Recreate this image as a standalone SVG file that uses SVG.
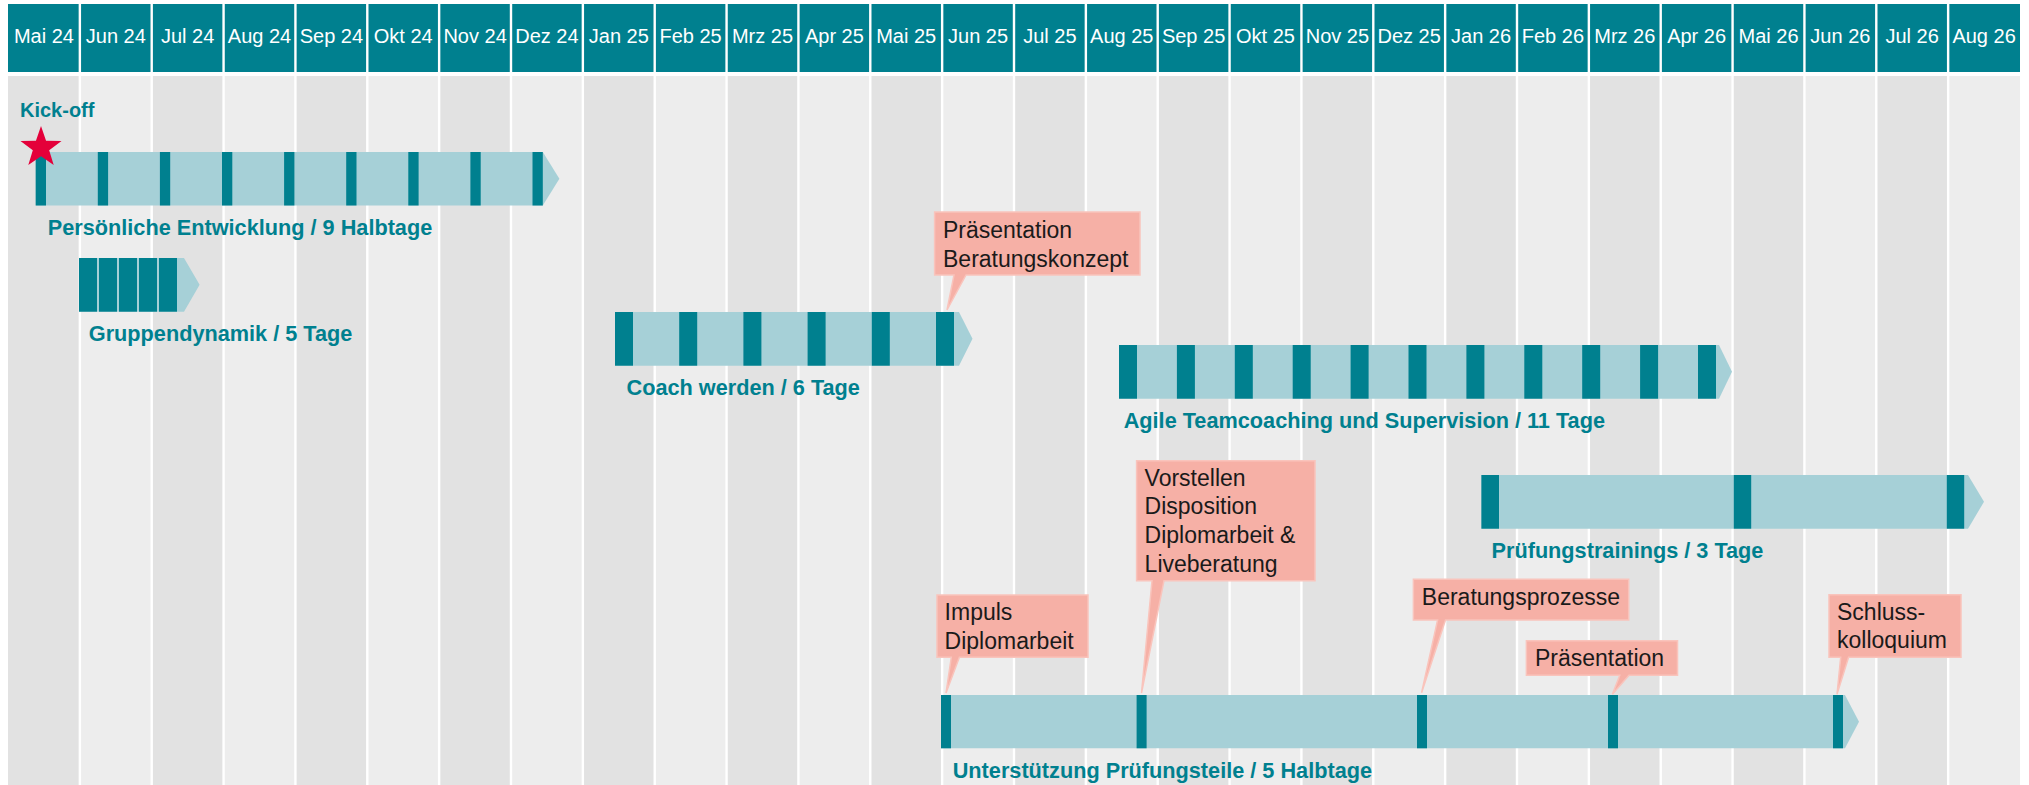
<svg xmlns="http://www.w3.org/2000/svg" width="2029" height="785" viewBox="0 0 2029 785">
<style>
.hdr{fill:#00808F}
.ht{font-family:"Liberation Sans",Arial,sans-serif;font-size:20px;fill:#fff;text-anchor:middle}
.cA{fill:#E2E2E2}
.cB{fill:#EDEDED}
.sep{stroke:#fff;stroke-width:2.4}
.bar{fill:#A6D0D7}
.mk{fill:#00808F}
.lbl{font-family:"Liberation Sans",Arial,sans-serif;font-weight:bold;font-size:21.7px;fill:#00808F}
.call{fill:#F6B0A6;stroke:#F9C4BC;stroke-width:1.5}
.ct{font-family:"Liberation Sans",Arial,sans-serif;font-size:23px;fill:#1A1A1A}
</style>
<rect x="0" y="0" width="2029" height="785" fill="#fff"/>
<g id="grid">
<rect class="hdr" x="8" y="4" width="2012" height="68"/>
<rect class="cA" x="8" y="76" width="71.86" height="709"/>
<rect class="cB" x="79.86" y="76" width="71.86" height="709"/>
<rect class="cA" x="151.71" y="76" width="71.86" height="709"/>
<rect class="cB" x="223.57" y="76" width="71.86" height="709"/>
<rect class="cA" x="295.43" y="76" width="71.86" height="709"/>
<rect class="cB" x="367.29" y="76" width="71.86" height="709"/>
<rect class="cA" x="439.14" y="76" width="71.86" height="709"/>
<rect class="cB" x="511" y="76" width="71.86" height="709"/>
<rect class="cA" x="582.86" y="76" width="71.86" height="709"/>
<rect class="cB" x="654.71" y="76" width="71.86" height="709"/>
<rect class="cA" x="726.57" y="76" width="71.86" height="709"/>
<rect class="cB" x="798.43" y="76" width="71.86" height="709"/>
<rect class="cA" x="870.29" y="76" width="71.86" height="709"/>
<rect class="cB" x="942.14" y="76" width="71.86" height="709"/>
<rect class="cA" x="1014" y="76" width="71.86" height="709"/>
<rect class="cB" x="1085.86" y="76" width="71.86" height="709"/>
<rect class="cA" x="1157.71" y="76" width="71.86" height="709"/>
<rect class="cB" x="1229.57" y="76" width="71.86" height="709"/>
<rect class="cA" x="1301.43" y="76" width="71.86" height="709"/>
<rect class="cB" x="1373.29" y="76" width="71.86" height="709"/>
<rect class="cA" x="1445.14" y="76" width="71.86" height="709"/>
<rect class="cB" x="1517" y="76" width="71.86" height="709"/>
<rect class="cA" x="1588.86" y="76" width="71.86" height="709"/>
<rect class="cB" x="1660.71" y="76" width="71.86" height="709"/>
<rect class="cA" x="1732.57" y="76" width="71.86" height="709"/>
<rect class="cB" x="1804.43" y="76" width="71.86" height="709"/>
<rect class="cA" x="1876.29" y="76" width="71.86" height="709"/>
<rect class="cB" x="1948.14" y="76" width="71.86" height="709"/>
<g class="sep">
<line x1="79.86" y1="0" x2="79.86" y2="785"/>
<line x1="151.71" y1="0" x2="151.71" y2="785"/>
<line x1="223.57" y1="0" x2="223.57" y2="785"/>
<line x1="295.43" y1="0" x2="295.43" y2="785"/>
<line x1="367.29" y1="0" x2="367.29" y2="785"/>
<line x1="439.14" y1="0" x2="439.14" y2="785"/>
<line x1="511" y1="0" x2="511" y2="785"/>
<line x1="582.86" y1="0" x2="582.86" y2="785"/>
<line x1="654.71" y1="0" x2="654.71" y2="785"/>
<line x1="726.57" y1="0" x2="726.57" y2="785"/>
<line x1="798.43" y1="0" x2="798.43" y2="785"/>
<line x1="870.29" y1="0" x2="870.29" y2="785"/>
<line x1="942.14" y1="0" x2="942.14" y2="785"/>
<line x1="1014" y1="0" x2="1014" y2="785"/>
<line x1="1085.86" y1="0" x2="1085.86" y2="785"/>
<line x1="1157.71" y1="0" x2="1157.71" y2="785"/>
<line x1="1229.57" y1="0" x2="1229.57" y2="785"/>
<line x1="1301.43" y1="0" x2="1301.43" y2="785"/>
<line x1="1373.29" y1="0" x2="1373.29" y2="785"/>
<line x1="1445.14" y1="0" x2="1445.14" y2="785"/>
<line x1="1517" y1="0" x2="1517" y2="785"/>
<line x1="1588.86" y1="0" x2="1588.86" y2="785"/>
<line x1="1660.71" y1="0" x2="1660.71" y2="785"/>
<line x1="1732.57" y1="0" x2="1732.57" y2="785"/>
<line x1="1804.43" y1="0" x2="1804.43" y2="785"/>
<line x1="1876.29" y1="0" x2="1876.29" y2="785"/>
<line x1="1948.14" y1="0" x2="1948.14" y2="785"/>
</g>
<g class="ht">
<text x="43.9" y="43">Mai 24</text>
<text x="115.8" y="43">Jun 24</text>
<text x="187.6" y="43">Jul 24</text>
<text x="259.5" y="43">Aug 24</text>
<text x="331.4" y="43">Sep 24</text>
<text x="403.2" y="43">Okt 24</text>
<text x="475.1" y="43">Nov 24</text>
<text x="546.9" y="43">Dez 24</text>
<text x="618.8" y="43">Jan 25</text>
<text x="690.6" y="43">Feb 25</text>
<text x="762.5" y="43">Mrz 25</text>
<text x="834.4" y="43">Apr 25</text>
<text x="906.2" y="43">Mai 25</text>
<text x="978.1" y="43">Jun 25</text>
<text x="1049.9" y="43">Jul 25</text>
<text x="1121.8" y="43">Aug 25</text>
<text x="1193.6" y="43">Sep 25</text>
<text x="1265.5" y="43">Okt 25</text>
<text x="1337.4" y="43">Nov 25</text>
<text x="1409.2" y="43">Dez 25</text>
<text x="1481.1" y="43">Jan 26</text>
<text x="1552.9" y="43">Feb 26</text>
<text x="1624.8" y="43">Mrz 26</text>
<text x="1696.6" y="43">Apr 26</text>
<text x="1768.5" y="43">Mai 26</text>
<text x="1840.4" y="43">Jun 26</text>
<text x="1912.2" y="43">Jul 26</text>
<text x="1984.1" y="43">Aug 26</text>
</g>
</g>
<g id="kickoff">
<text class="lbl" x="20" y="117" style="font-size:20px">Kick-off</text>
</g>
<g id="persoenliche-entwicklung">
<polygon class="bar" points="35.7,152 542.8,152 559.4,178.8 542.8,205.5 35.7,205.5"/>
<rect class="mk" x="35.7" y="152" width="10.3" height="53.5"/>
<rect class="mk" x="97.8" y="152" width="10.3" height="53.5"/>
<rect class="mk" x="159.9" y="152" width="10.3" height="53.5"/>
<rect class="mk" x="222" y="152" width="10.3" height="53.5"/>
<rect class="mk" x="284.1" y="152" width="10.3" height="53.5"/>
<rect class="mk" x="346.2" y="152" width="10.3" height="53.5"/>
<rect class="mk" x="408.3" y="152" width="10.3" height="53.5"/>
<rect class="mk" x="470.4" y="152" width="10.3" height="53.5"/>
<rect class="mk" x="532.5" y="152" width="10.3" height="53.5"/>
<text class="lbl" x="47.8" y="235">Persönliche Entwicklung / 9 Halbtage</text>
</g>
<g id="star">
<polygon fill="#E4003A" points="41,126 46.06,140.64 61.54,140.93 49.18,150.26 53.7,165.07 41,156.2 28.3,165.07 32.82,150.26 20.46,140.93 35.94,140.64"/>
</g>
<g id="gruppendynamik">
<polygon class="bar" points="79,258 184,258 199.6,284.8 184,311.7 79,311.7"/>
<rect class="mk" x="79" y="258" width="18" height="53.7"/>
<rect class="mk" x="99" y="258" width="18" height="53.7"/>
<rect class="mk" x="119" y="258" width="18" height="53.7"/>
<rect class="mk" x="139" y="258" width="18" height="53.7"/>
<rect class="mk" x="159" y="258" width="18" height="53.7"/>
<text class="lbl" x="88.8" y="340.5">Gruppendynamik / 5 Tage</text>
</g>
<g id="coach-werden">
<polygon class="bar" points="615,312 959,312 972.5,338.8 959,365.7 615,365.7"/>
<rect class="mk" x="615" y="312" width="18" height="53.7"/>
<rect class="mk" x="679.2" y="312" width="18" height="53.7"/>
<rect class="mk" x="743.4" y="312" width="18" height="53.7"/>
<rect class="mk" x="807.6" y="312" width="18" height="53.7"/>
<rect class="mk" x="871.8" y="312" width="18" height="53.7"/>
<rect class="mk" x="936" y="312" width="18" height="53.7"/>
<text class="lbl" x="626.5" y="395">Coach werden / 6 Tage</text>
</g>
<g id="agile-teamcoaching">
<polygon class="bar" points="1119,345 1719,345 1732,371.8 1719,398.7 1119,398.7"/>
<rect class="mk" x="1119" y="345" width="18" height="53.7"/>
<rect class="mk" x="1176.9" y="345" width="18" height="53.7"/>
<rect class="mk" x="1234.8" y="345" width="18" height="53.7"/>
<rect class="mk" x="1292.7" y="345" width="18" height="53.7"/>
<rect class="mk" x="1350.6" y="345" width="18" height="53.7"/>
<rect class="mk" x="1408.5" y="345" width="18" height="53.7"/>
<rect class="mk" x="1466.4" y="345" width="18" height="53.7"/>
<rect class="mk" x="1524.3" y="345" width="18" height="53.7"/>
<rect class="mk" x="1582.2" y="345" width="18" height="53.7"/>
<rect class="mk" x="1640.1" y="345" width="18" height="53.7"/>
<rect class="mk" x="1698" y="345" width="18" height="53.7"/>
<text class="lbl" x="1123.7" y="427.5">Agile Teamcoaching und Supervision / 11 Tage</text>
</g>
<g id="pruefungstrainings">
<polygon class="bar" points="1481.4,475 1968,475 1984,501.8 1968,528.7 1481.4,528.7"/>
<rect class="mk" x="1481.4" y="475" width="17.6" height="53.7"/>
<rect class="mk" x="1733.8" y="475" width="17.4" height="53.7"/>
<rect class="mk" x="1946.8" y="475" width="17.4" height="53.7"/>
<text class="lbl" x="1491.5" y="558">Prüfungstrainings / 3 Tage</text>
</g>
<g id="unterstuetzung">
<polygon class="bar" points="941,695 1845,695 1859,721.7 1845,748.3 941,748.3"/>
<rect class="mk" x="941" y="695" width="10" height="53.3"/>
<rect class="mk" x="1136.6" y="695" width="10" height="53.3"/>
<rect class="mk" x="1417" y="695" width="10" height="53.3"/>
<rect class="mk" x="1608" y="695" width="10" height="53.3"/>
<rect class="mk" x="1833" y="695" width="10" height="53.3"/>
<text class="lbl" x="952.7" y="778">Unterstützung Prüfungsteile / 5 Halbtage</text>
</g>
<g id="connectors">
</g>
<g id="callout-praesentation-beratungskonzept">
<path class="call" d="M934.6,212 H1140 V275 H966 L947,310 L954,275 H934.6 Z"/>
<text class="ct" x="943" y="238.3">Präsentation</text>
<text class="ct" x="943" y="266.7">Beratungskonzept</text>
</g>
<g id="callout-vorstellen">
<path class="call" d="M1136.6,460.7 H1315 V580.7 H1164 L1141.5,693 L1152,580.7 H1136.6 Z"/>
<text class="ct" x="1144.6" y="485.7">Vorstellen</text>
<text class="ct" x="1144.6" y="514.3">Disposition</text>
<text class="ct" x="1144.6" y="543">Diplomarbeit &amp;</text>
<text class="ct" x="1144.6" y="571.6">Liveberatung</text>
</g>
<g id="callout-impuls">
<path class="call" d="M937,595 H1088 V657.3 H959.4 L946,693 L951.3,657.3 H937 Z"/>
<text class="ct" x="944.6" y="620">Impuls</text>
<text class="ct" x="944.6" y="648.5">Diplomarbeit</text>
</g>
<g id="callout-beratungsprozesse">
<path class="call" d="M1413.4,579.3 H1628.7 V620 H1445.5 L1421.6,692.7 L1437.6,620 H1413.4 Z"/>
<text class="ct" x="1421.8" y="605">Beratungsprozesse</text>
</g>
<g id="callout-praesentation">
<path class="call" d="M1526.4,640.7 H1677.5 V675.3 H1629 L1612.4,694.3 L1619.8,675.3 H1526.4 Z"/>
<text class="ct" x="1535" y="666">Präsentation</text>
</g>
<g id="callout-schlusskolloquium">
<path class="call" d="M1829,594.7 H1961 V657.3 H1848.6 L1837,694.3 L1840.7,657.3 H1829 Z"/>
<text class="ct" x="1837" y="620">Schluss-</text>
<text class="ct" x="1837" y="648.4">kolloquium</text>
</g>
</svg>
